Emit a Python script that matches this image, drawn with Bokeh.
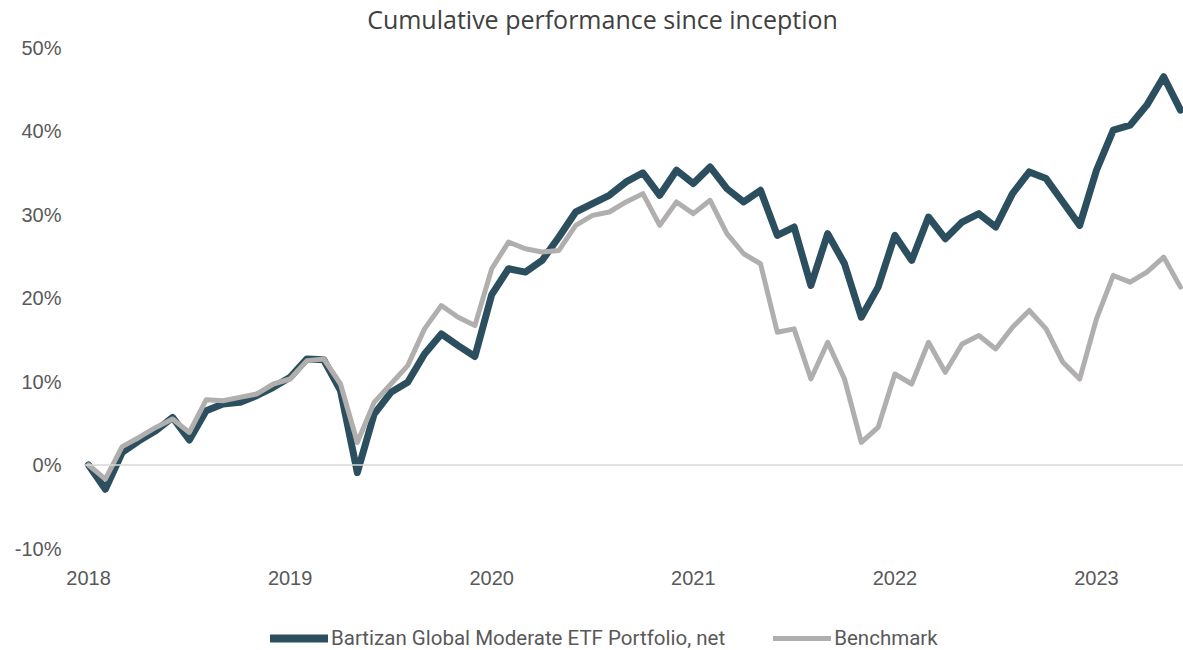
from bokeh.plotting import figure
from bokeh.layouts import column
from bokeh.models import (ColumnDataSource, FixedTicker, Legend, LegendItem, Span, Label,
                          PrintfTickFormatter, Range1d)
from bokeh.embed import file_html
from bokeh.resources import INLINE

# Monthly cumulative performance (%), Jan 2018 .. Jun 2023
portfolio = [0.0, -2.9, 1.5, 2.9, 4.1, 5.7, 3.0, 6.5, 7.3, 7.5, 8.3, 9.3,
             10.5, 12.7, 12.6, 8.9, -0.9, 6.1, 8.7, 9.9, 13.3, 15.7, 14.3, 13.0,
             20.4, 23.5, 23.1, 24.5, 27.3, 30.3, 31.3, 32.3, 33.9, 35.0, 32.3, 35.3,
             33.7, 35.7, 33.1, 31.5, 32.9, 27.5, 28.5, 21.5, 27.7, 24.1, 17.7, 21.3,
             27.5, 24.5, 29.7, 27.1, 29.1, 30.1, 28.5, 32.5, 35.1, 34.3, 31.5, 28.7,
             35.3, 40.1, 40.7, 43.1, 46.5, 42.5]
benchmark = [0.0, -1.7, 2.2, 3.3, 4.5, 5.5, 3.9, 7.8, 7.7, 8.1, 8.5, 9.7,
             10.3, 12.5, 12.7, 9.7, 2.7, 7.5, 9.7, 11.9, 16.3, 19.1, 17.7, 16.7,
             23.5, 26.7, 25.9, 25.5, 25.7, 28.7, 29.9, 30.3, 31.5, 32.5, 28.7, 31.5,
             30.1, 31.7, 27.7, 25.3, 24.1, 15.9, 16.3, 10.3, 14.7, 10.3, 2.7, 4.5,
             10.9, 9.7, 14.7, 11.1, 14.5, 15.5, 13.9, 16.5, 18.5, 16.3, 12.3, 10.3,
             17.5, 22.7, 21.9, 23.1, 24.9, 21.3]
month_index = list(range(len(portfolio)))
year_ticks = [0, 12, 24, 36, 48, 60]
year_labels = ["2018", "2019", "2020", "2021", "2022", "2023"]
y_ticks = [-10, 0, 10, 20, 30, 40, 50]
series_names = ["Bartizan Global Moderate ETF Portfolio, net", "Benchmark"]
title_text = "Cumulative performance since inception"

TITLE_FONT = "Open Sans"
TICK_FONT = "Liberation Sans"
LEG_FONT = "Roboto"
DARK = "#2C4F5F"
GREY = "#B1AEAE"
TXT = "#595959"


def strip(height, xr, yr):
    f = figure(width=1183, height=height, output_backend="svg", toolbar_location=None,
               x_range=xr, y_range=yr,
               min_border_left=0, min_border_right=0, min_border_top=0, min_border_bottom=0)
    f.axis.visible = False
    f.grid.visible = False
    f.outline_line_color = None
    return f


# title strip
tf = strip(35, Range1d(0, 1100), Range1d(0, 35))
tf.add_layout(Label(x=519, y=17, text=title_text, text_align="center",
                    text_baseline="middle", text_font_size="25px",
                    text_color="#404040", text_font=TITLE_FONT))

src = ColumnDataSource(dict(x=month_index, port=portfolio, bench=benchmark))

p = figure(width=1183, height=591, output_backend="svg", toolbar_location=None,
           x_range=Range1d(-0.3, 65.18), y_range=Range1d(-10, 50),
           min_border_left=83, min_border_right=0, min_border_top=12,
           min_border_bottom=78)
p.outline_line_color = None
p.xgrid.visible = False
p.ygrid.visible = False

zero = Span(location=0, dimension="width", line_color="#D9D9D9", line_width=1.5)
p.add_layout(zero)

p.line("x", "port", source=src, line_color=DARK, line_width=7,
       line_join="round", line_cap="round")
p.line("x", "bench", source=src, line_color=GREY, line_width=5,
       line_join="round", line_cap="round")

for ax in (p.xaxis[0], p.yaxis[0]):
    ax.axis_line_color = None
    ax.major_tick_line_color = None
    ax.minor_tick_line_color = None
    ax.major_label_text_font = TICK_FONT
    ax.major_label_text_font_size = "20px"
    ax.major_label_text_color = TXT

p.yaxis.ticker = FixedTicker(ticks=y_ticks)
p.yaxis.formatter = PrintfTickFormatter(format="%d%%")
p.yaxis.major_label_standoff = 16
p.xaxis.ticker = FixedTicker(ticks=year_ticks)
p.xaxis.major_label_overrides = {t: l for t, l in zip(year_ticks, year_labels)}
p.xaxis.major_label_standoff = 16

# legend strip below the chart (its lines use the same data, but sit outside its visible range)
lf = strip(24, Range1d(0, 1), Range1d(1000, 1001))
lr_p = lf.line("x", "port", source=src, line_color=DARK, line_width=8, line_cap="round")
lr_b = lf.line("x", "bench", source=src, line_color=GREY, line_width=5, line_cap="round")
legend = Legend(items=[LegendItem(label=series_names[0], renderers=[lr_p]),
                       LegendItem(label=series_names[1], renderers=[lr_b])],
                orientation="horizontal", location=(187, 0))
legend.glyph_width = 58
legend.glyph_height = 24
legend.label_standoff = 3
legend.spacing = 48
legend.padding = 0
legend.margin = 0
legend.label_text_font = LEG_FONT
legend.label_text_font_size = "20.5px"
legend.label_text_color = TXT
legend.border_line_color = None
legend.background_fill_alpha = 0
lf.add_layout(legend, "center")

layout = column(tf, p, lf, spacing=0)
open("out.html", "w").write(file_html(layout, INLINE))
